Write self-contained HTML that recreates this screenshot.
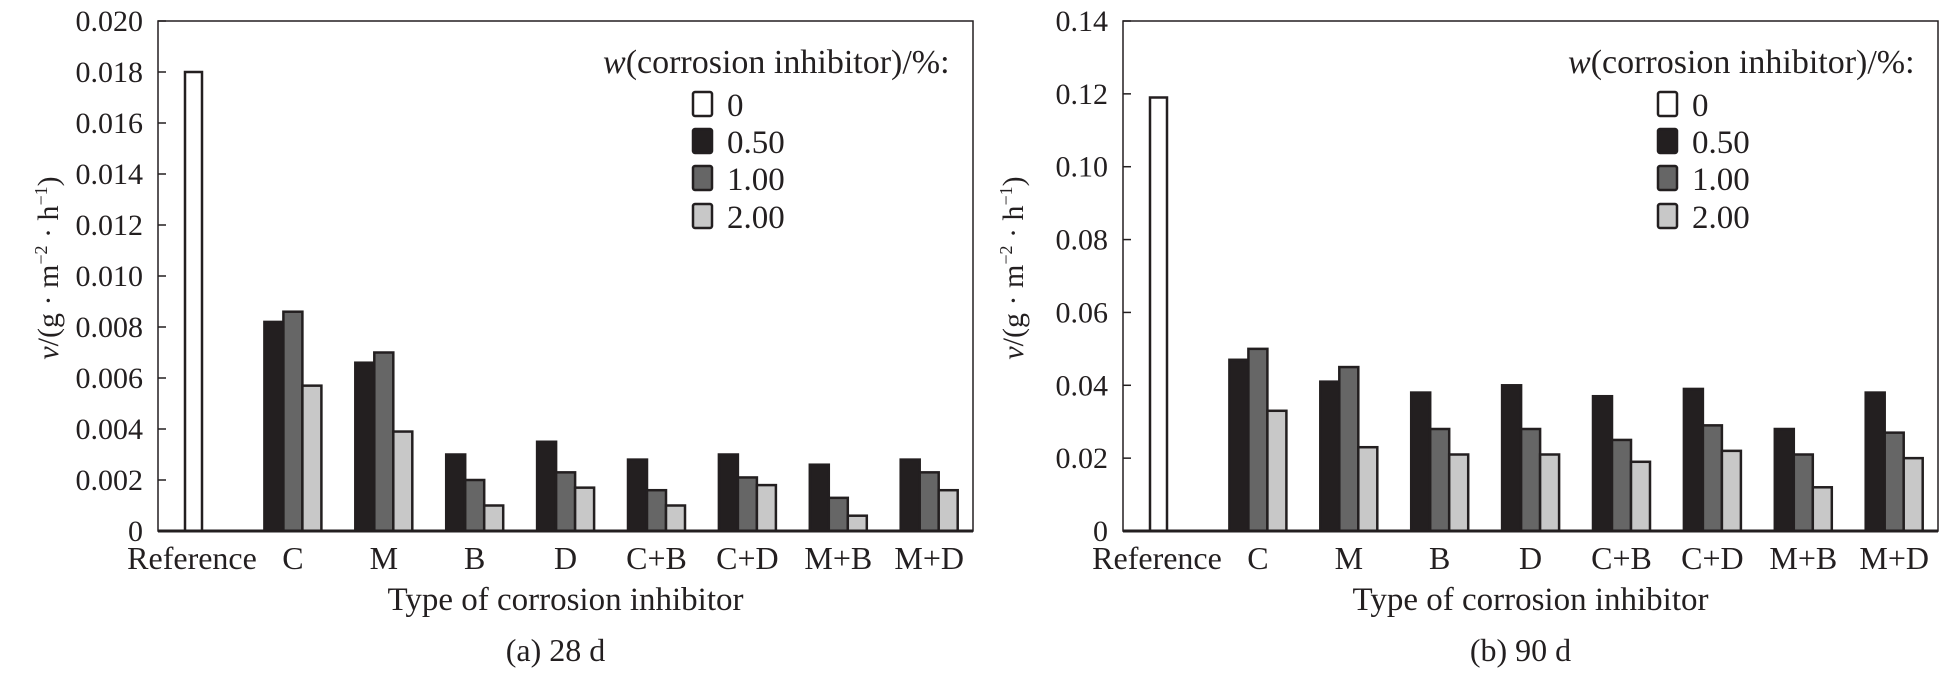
<!DOCTYPE html>
<html><head><meta charset="utf-8"><style>
html,body{margin:0;padding:0;background:#fff;}
svg{display:block;}
svg text{font-family:"Liberation Serif","DejaVu Serif",serif;}
</style></head><body>
<svg id="chart" width="1945" height="686" viewBox="0 0 1945 686" xmlns="http://www.w3.org/2000/svg" font-family="Liberation Serif, DejaVu Serif, serif"></svg>
<script>
const categories = ["Reference","C","M","B","D","C+B","C+D","M+B","M+D"];
const seriesNames = ["0","0.50","1.00","2.00"];
const refA = 0.018;
const s050A = [0.0082,0.0066,0.0030,0.0035,0.0028,0.0030,0.0026,0.0028];
const s100A = [0.0086,0.0070,0.0020,0.0023,0.0016,0.0021,0.0013,0.0023];
const s200A = [0.0057,0.0039,0.0010,0.0017,0.0010,0.0018,0.0006,0.0016];
const ticksA = ["0","0.002","0.004","0.006","0.008","0.010","0.012","0.014","0.016","0.018","0.020"];
const refB = 0.119;
const s050B = [0.047,0.041,0.038,0.040,0.037,0.039,0.028,0.038];
const s100B = [0.050,0.045,0.028,0.028,0.025,0.029,0.021,0.027];
const s200B = [0.033,0.023,0.021,0.021,0.019,0.022,0.012,0.020];
const ticksB = ["0","0.02","0.04","0.06","0.08","0.10","0.12","0.14"];

const NS="http://www.w3.org/2000/svg";
const svg=document.getElementById('chart');
const fills=["#ffffff","#231f20","#666666","#c8c8c8"];
const FF='"Liberation Serif","DejaVu Serif",serif';
function mk(tag,attrs,parent){const e=document.createElementNS(NS,tag);for(const k in attrs)e.setAttribute(k,attrs[k]);if(tag==='text')e.style.fontFamily=FF;(parent||svg).appendChild(e);return e;}

function panel(px0,px1,ymax,ticks,ref,series,caption,id){
  const py0=21, py1=531;
  const g=mk('g',{});
  
  
  const y=v=>py1-(v/ymax)*(py1-py0);
  const cx=i=>px0+44+90.9*i;
  const fr=mk('rect',{x:px0,y:py0,width:px1-px0,height:py1-py0,fill:'none',stroke:'#231f20','stroke-width':1.5},g);
  
  
  ticks.forEach(t=>{
    const v=parseFloat(t), yy=y(v);
    const tl=mk('line',{x1:px0,x2:px0+8,y1:yy,y2:yy,stroke:'#231f20','stroke-width':1.5},g);
    
    
    const tx=mk('text',{x:px0-15,y:yy+10,'text-anchor':'end','font-size':30,fill:'#231f20'},g);
    tx.textContent=t;
    
    
  });
  const rb=mk('rect',{x:cx(0)-17,y:y(ref),width:17,height:py1-y(ref),fill:fills[0],stroke:'#231f20','stroke-width':2.5},g);
  
  
  const bw=19;
  for(let i=0;i<8;i++){
    const c=cx(i+1);
    series.forEach((arr,s)=>{
      const v=arr[i];
      const b=mk('rect',{x:c-28.5+s*bw,y:y(v),width:bw,height:py1-y(v),fill:fills[s+1],stroke:'#231f20','stroke-width':2.5},g);
      
      
    });
  }
  const ax=mk('line',{x1:px0,x2:px1,y1:py1,y2:py1,stroke:'#231f20','stroke-width':3},g);
  
  
  categories.forEach((c,i)=>{
    const lx = i===0 ? cx(0)-10 : cx(i);
    const t=mk('text',{x:lx,y:569,'text-anchor':'middle','font-size':32,fill:'#231f20'},g);
    t.textContent=c;
    
    
  });
  const xt=mk('text',{x:(px0+px1)/2,y:610,'text-anchor':'middle','font-size':33,fill:'#231f20'},g);
  xt.textContent='Type of corrosion inhibitor';
  
  
  const cp=mk('text',{x:(px0+px1)/2-10,y:661,'text-anchor':'middle','font-size':32,fill:'#231f20'},g);
  cp.textContent=caption;
  
  
  const yt=mk('text',{x:0,y:0,'text-anchor':'middle','font-size':30,fill:'#231f20',transform:'translate('+(px0-100)+',268) rotate(-90)'},g);
  yt.innerHTML='<tspan font-style="italic">v</tspan>/(g · m<tspan font-size="18" dy="-11">−2</tspan><tspan dy="11"> · h</tspan><tspan font-size="18" dy="-11">−1</tspan><tspan dy="11">)</tspan>';
  
  
  const lg=mk('g',{},g);
  
  
  const lt=mk('text',{x:px1-370,y:73,'font-size':34,fill:'#231f20'},lg);
  lt.innerHTML='<tspan font-style="italic">w</tspan>(corrosion inhibitor)/%:';
  
  
  const rows=[104,141,178,216];
  seriesNames.forEach((n,s)=>{
    const sw=mk('rect',{x:px1-280,y:rows[s]-12,width:19,height:24,rx:2,fill:fills[s],stroke:'#231f20','stroke-width':2.5},lg);
    
    
    const tx=mk('text',{x:px1-246,y:rows[s]+12,'font-size':33,fill:'#231f20'},lg);
    tx.textContent=n;
    
    
  });
}
panel(158,973,0.020,ticksA,refA,[s050A,s100A,s200A],'(a) 28 d','a');
panel(1123,1938,0.14,ticksB,refB,[s050B,s100B,s200B],'(b) 90 d','b');
</script>
</body></html>
